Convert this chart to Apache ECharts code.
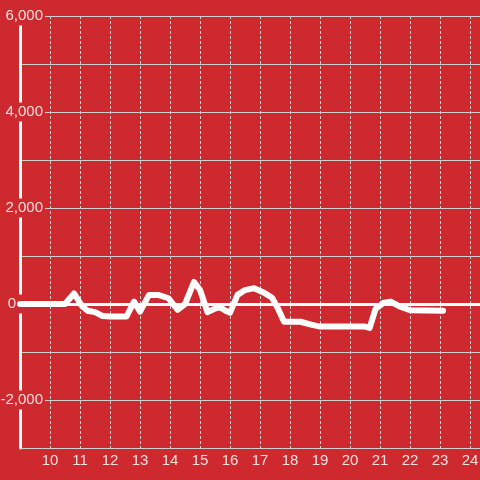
<!DOCTYPE html>
<html>
<head>
<meta charset="utf-8">
<script src="https://cdn.jsdelivr.net/npm/echarts@6/dist/echarts.min.js"></script>
<style>
html,body{margin:0;padding:0;background:#cd292e;}
#c{width:480px;height:480px;}
</style>
</head>
<body>
<div id="c"></div>
<script>
// Data (hours of day, value)
var hours = [9.0, 10.5, 10.8, 11.05, 11.25, 11.5, 11.75, 12.0, 12.55, 12.8, 13.0, 13.3, 13.6, 13.95, 14.25, 14.5, 14.8, 15.0, 15.25, 15.45, 15.65, 15.85, 16.0, 16.25, 16.5, 16.8, 17.15, 17.4, 17.6, 17.8, 18.35, 18.7, 19.0, 20.5, 20.65, 20.85, 21.1, 21.35, 21.65, 22.0, 23.1];
var values = [0, 0, 220, -30, -140, -170, -250, -260, -260, 50, -160, 190, 190, 120, -120, 0, 460, 290, -170, -110, -60, -140, -180, 190, 290, 330, 230, 130, -100, -370, -370, -430, -470, -470, -500, -100, 20, 50, -50, -130, -140];
var xTicks = [10, 11, 12, 13, 14, 15, 16, 17, 18, 19, 20, 21, 22, 23, 24];
var yTickLabels = [-2000, 0, 2000, 4000, 6000];

var seriesData = hours.map(function (h, i) { return [h, values[i]]; });
var BG = '#cd292e';
var TXT = 'rgba(255,255,255,0.86)';
var GRID = '#cfcfcf';

function fmtNum(v) {
  var s = String(Math.abs(v)).replace(/\B(?=(\d{3})+(?!\d))/g, ',');
  return (v < 0 ? '-' : '') + s;
}

var chart = echarts.init(document.getElementById('c'));
chart.setOption({
  backgroundColor: BG,
  animation: false,
  grid: { left: 20, right: 0, top: 16, bottom: 32, containLabel: false, outerBoundsMode: 'none' },
  xAxis: {
    type: 'value',
    min: 9,
    max: 24.33,
    interval: 1,
    axisLine: { show: true, onZero: false, lineStyle: { color: GRID, width: 1 } },
    axisTick: { show: false },
    axisLabel: {
      color: TXT,
      fontSize: 15,
      fontFamily: 'Liberation Sans, Arial, sans-serif',
      margin: 5,
      showMinLabel: false,
      showMaxLabel: false,
      formatter: function (v) { return xTicks.indexOf(v) >= 0 ? String(v) : ''; }
    },
    splitLine: { show: true, lineStyle: { color: GRID, width: 1, type: [3, 2] } }
  },
  yAxis: {
    type: 'value',
    min: -3000,
    max: 6000,
    interval: 1000,
    axisLine: { show: true, lineStyle: { color: '#ffffff', width: 3 } },
    axisTick: { show: false },
    splitLine: { show: true, lineStyle: { color: GRID, width: 1 } },
    axisLabel: {
      inside: true,
      align: 'right',
      margin: 25,
      color: TXT,
      fontSize: 15,
      fontFamily: 'Liberation Sans, Arial, sans-serif',
      formatter: function (v) {
        if (yTickLabels.indexOf(v) < 0) return '';
        if (v === 0) return '{z|0}';
        return '{b|' + fmtNum(v) + '}';
      },
      rich: {
        b: { backgroundColor: BG, padding: [2, 2, 2, 2], color: TXT, fontSize: 15, fontFamily: 'Liberation Sans, Arial, sans-serif' },
        z: { backgroundColor: BG, padding: [2, 29, 2, 2], color: TXT, fontSize: 15, fontFamily: 'Liberation Sans, Arial, sans-serif' }
      }
    }
  },
  series: [{
    type: 'line',
    data: seriesData,
    showSymbol: false,
    symbol: 'none',
    lineStyle: { color: '#ffffff', width: 6, cap: 'round', join: 'round' },
    markLine: {
      silent: true,
      symbol: 'none',
      label: { show: false },
      lineStyle: { color: '#ffffff', width: 3, type: 'solid' },
      data: [{ yAxis: 0 }]
    }
  }]
});
</script>
</body>
</html>
